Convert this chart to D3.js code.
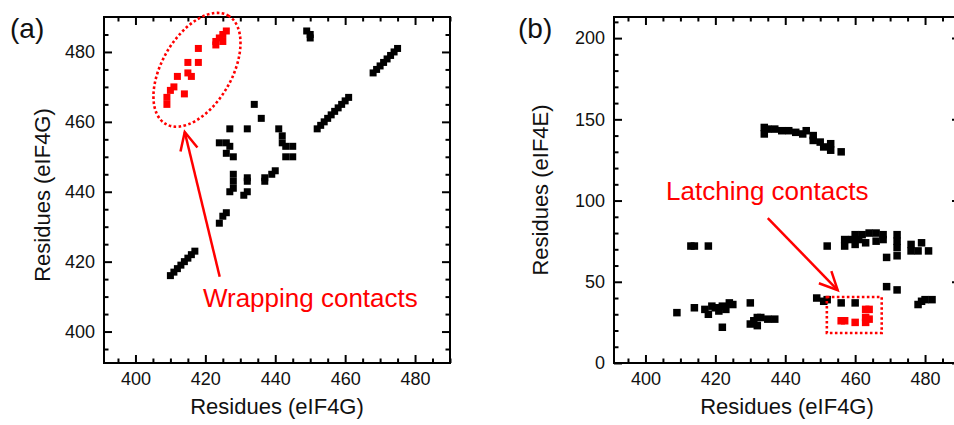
<!DOCTYPE html>
<html>
<head>
<meta charset="utf-8">
<script src="https://cdn.jsdelivr.net/npm/d3@7"></script>
<style>
  body { margin: 0; background: #fff; }
  svg { display: block; font-family: "Liberation Sans", Arial, sans-serif; }
</style>
</head>
<body>
<div id="chart"></div>
<script>
// contact map (a): eIF4G vs eIF4G
var aBlack = [
  [410,416],[411,417],[412,418],[413,419],[414,420],[415,421],[416,422],[417,423],
  [452,458],[453,459],[454,460],[455,461],[456,462],[457,463],[458,464],[459,465],[460,466],[461,467],
  [468,474],[469,475],[470,476],[471,477],[472,478],[473,479],[474,480],[475,481],
  [449,486],[450,485],[450,484],
  [434,465],[436,461],[427,458],[432,458],[441,458],
  [424,454],[426,454],[427,453],[426,451],[428,450],
  [442,456],[442,454],[443,453],[445,453],[443,450],[445,450],
  [428,445],[428,443],[428,441],[427,440],
  [432,444],[432,443],[432,440],[431,439],
  [437,443],[437,444],[439,445],[440,446],
  [425,433],[426,434],[424,431]
]
var aRed = [
  [426,486],[425,485],[424,484],[423,483],[423,482],[425,483],[418,481],
  [415,477],[418,477],[415,474],[412,473],[416,473],[411,470],[414,468],
  [410,469],[409,467],[409,465]
]
// contact map (b): eIF4G vs eIF4E
var bBlack = [
  [434,145],[434,141],[435,144],[437,144],[439,143],[441,143],[443,142],[445,141],[446,143],
  [448,140],[448,137],[450,136],[451,133],[453,135],[453,131],[456,130],
  [413,72],[414,72],[418,72],[452,72],
  [457,72],[457,76],[459,76],[460,79],[462,79],[464,80],[466,80],[468,79],
  [460,73],[463,74],[466,75],[468,76],[461,76],
  [472,79],[472,75],[472,71],[472,66],[469,65],
  [476,73],[476,69],[478,69],[479,74],[481,69],
  [469,47],[472,45],
  [409,31],[414,34],[417,33],[418,30],[419,35],[420,34],[422,35],[424,37],[425,36],[422,22],[421,32],[423,33],
  [430,37],[430,24],[432,28],[431,26],[433,28],[435,27],[437,27],[432,23],
  [449,40],[451,38],[452,39],[456,37],[460,37],
  [478,36],[479,38],[480,39],[482,39]
]
var bRed = [[456,26],[457,26],[460,25],[463,33],[464,33],[463,28],[464,27],[463,25]]

var xTicks = [400,420,440,460,480]
var aYTicks = [400,420,440,460,480]
var bYTicks = [0,50,100,150,200]

var W = 954, H = 425
var svg = d3.select("#chart").append("svg").attr("width", W).attr("height", H)

function panel(o) {
  var x = d3.scaleLinear().domain(o.xDom).range([o.left, o.left + 346])
  var y = d3.scaleLinear().domain(o.yDom).range([363, 17])
  var g = svg.append("g")
  var minorX = d3.range(395, 491, 5).filter(v => xTicks.indexOf(v) < 0)
  var minorY = d3.range(o.yMinorStart, o.yDom[1], o.yMinorStep).filter(v => o.yTicks.indexOf(v) < 0)

  function ax(axisFn, scale, vals, len, labels, tr) {
    var a = axisFn(scale).tickValues(vals).tickSize(-len).tickSizeOuter(0).tickPadding(labels ? 9 : 0)
    if (!labels) a.tickFormat("")
    var s = g.append("g").attr("transform", tr).call(a)
    s.select(".domain").remove()
    s.selectAll("line").attr("stroke", "#000").attr("stroke-width", 2)
    s.selectAll("text").attr("font-size", 18).attr("fill", "#111")
    return s
  }
  var bx = "translate(0,363)", tx = "translate(0,17)"
  var ly = "translate(" + o.left + ",0)", ry = "translate(" + (o.left + 346) + ",0)"
  ax(d3.axisBottom, x, xTicks, 8, true, bx)
  ax(d3.axisBottom, x, minorX, 4.5, false, bx)
  ax(d3.axisTop, x, xTicks, 8, false, tx)
  ax(d3.axisTop, x, minorX, 4.5, false, tx)
  ax(d3.axisLeft, y, o.yTicks, 8, true, ly)
  ax(d3.axisLeft, y, minorY, 4.5, false, ly)
  ax(d3.axisRight, y, o.yTicks, 8, false, ry)
  ax(d3.axisRight, y, minorY, 4.5, false, ry)

  g.append("rect").attr("x", o.left).attr("y", 17).attr("width", 346).attr("height", 346)
    .attr("fill", "none").attr("stroke", "#000").attr("stroke-width", 2)

  var s = o.size
  g.selectAll("rect.blk").data(o.black).enter().append("rect").attr("class", "blk")
    .attr("x", d => x(d[0]) - s / 2).attr("y", d => y(d[1]) - s / 2)
    .attr("width", s).attr("height", s).attr("fill", "#000")
  g.selectAll("rect.red").data(o.red).enter().append("rect").attr("class", "red")
    .attr("x", d => x(d[0]) - s / 2).attr("y", d => y(d[1]) - s / 2)
    .attr("width", s).attr("height", s).attr("fill", "#ff0000")

  // axis titles and panel letter
  g.append("text").attr("x", o.left + 173).attr("y", 414).attr("text-anchor", "middle")
    .attr("font-size", 22).attr("fill", "#111").text("Residues (eIF4G)")
  g.append("text").attr("transform", "translate(" + o.yTitleX + "," + o.yTitleY + ")rotate(-90)")
    .attr("text-anchor", "middle").attr("font-size", 22).attr("fill", "#111").text(o.yTitle)
  g.append("text").attr("x", o.letterX).attr("y", 38).attr("font-size", 28).attr("fill", "#111").text(o.letter)

  // red annotations
  var red = "#ff0000"
  if (o.ellipse) {
    var e = o.ellipse
    g.append("ellipse").attr("transform", "translate(" + x(e.cx) + "," + y(e.cy) + ")rotate(" + (-e.angle) + ")")
      .attr("rx", x(e.cx + e.rx) - x(e.cx)).attr("ry", x(e.cx + e.ry) - x(e.cx))
      .attr("fill", "none").attr("stroke", red).attr("stroke-width", 2.6).attr("stroke-dasharray", "2.6,2.4")
  }
  if (o.box) {
    var b = o.box
    g.append("rect").attr("x", x(b[0])).attr("y", y(b[3])).attr("width", x(b[1]) - x(b[0]))
      .attr("height", y(b[2]) - y(b[3])).attr("fill", "none").attr("stroke", red)
      .attr("stroke-width", 2.6).attr("stroke-dasharray", "2.6,2.4")
  }
  var p0 = [x(o.arrow[0][0]), y(o.arrow[0][1])], p1 = [x(o.arrow[1][0]), y(o.arrow[1][1])]
  g.append("line").attr("x1", p0[0]).attr("y1", p0[1]).attr("x2", p1[0]).attr("y2", p1[1])
    .attr("stroke", red).attr("stroke-width", 2.5)
  var ang = Math.atan2(p0[1] - p1[1], p0[0] - p1[0]), L = 20
  var head = [[p1[0] + L * Math.cos(ang - 0.45), p1[1] + L * Math.sin(ang - 0.45)], p1,
              [p1[0] + L * Math.cos(ang + 0.45), p1[1] + L * Math.sin(ang + 0.45)]]
  g.append("path").attr("d", d3.line()(head)).attr("fill", "none").attr("stroke", red).attr("stroke-width", 2.5)
  g.append("text").attr("x", x(o.label[0])).attr("y", y(o.label[1])).attr("font-size", 26)
    .attr("fill", red).text(o.label[2])
}

panel({
  left: 104, xDom: [391, 490], yDom: [391, 490], yTicks: aYTicks, yMinorStart: 395, yMinorStep: 5,
  black: aBlack, red: aRed, size: 7,
  yTitle: "Residues (eIF4G)", yTitleX: 50, yTitleY: 195, letter: "(a)", letterX: 10,
  ellipse: {cx: 417.6, cy: 474.9, rx: 17.9, ry: 10, angle: 60},
  arrow: [[424.1, 415.7], [414.1, 457.1]],
  label: [419.3, 406.9, "Wrapping contacts"]
})
panel({
  left: 614, xDom: [391, 490], yDom: [0, 213], yTicks: bYTicks, yMinorStart: 10, yMinorStep: 10,
  black: bBlack, red: bRed, size: 7.5,
  yTitle: "Residues (eIF4E)", yTitleX: 548, yTitleY: 190, letter: "(b)", letterX: 518,
  box: [451.9, 467.6, 18.5, 40.6],
  arrow: [[435, 89.2], [455, 44.9]],
  label: [405.9, 100.3, "Latching contacts"]
})
</script>
</body>
</html>
